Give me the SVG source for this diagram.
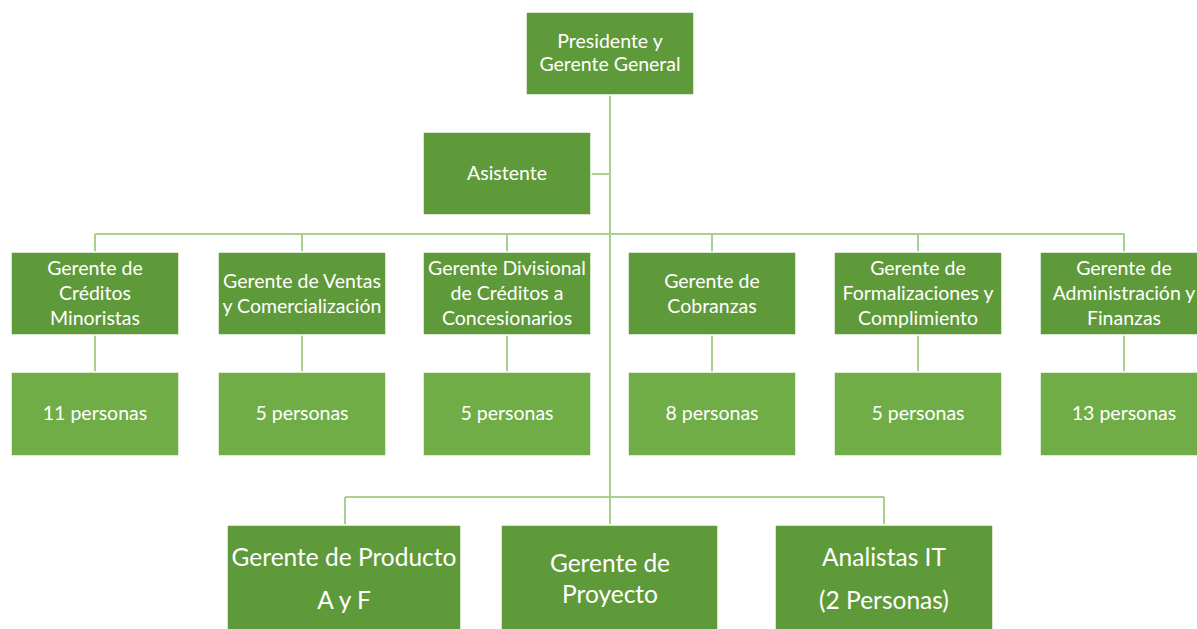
<svg xmlns="http://www.w3.org/2000/svg" width="1197" height="629" viewBox="0 0 1197 629">
<style>
.d{fill:#5f9a3a;stroke:#ffffff;stroke-width:1.5}
.l{fill:#70ad47;stroke:#ffffff;stroke-width:1.5}
.t{font-family:Lato,"Liberation Sans",sans-serif;font-size:19.5px;fill:#ffffff;text-anchor:middle}
.b{font-family:Lato,"Liberation Sans",sans-serif;font-size:24.5px;fill:#ffffff;text-anchor:middle}
.c{fill:none;stroke:#a9d18e;stroke-width:2}
</style>
<rect width="1197" height="629" fill="#ffffff"/>
<g id="connectors">
<path class="c" d="M610 95 V525"/>
<path class="c" d="M591 174 H610"/>
<path class="c" d="M95 234 H1125"/>
<path class="c" d="M95 234 V252 M302 234 V252 M507 234 V252 M712 234 V252 M918 234 V252 M1124 234 V252"/>
<path class="c" d="M95 335 V372 M302 335 V372 M507 335 V372 M712 335 V372 M918 335 V372 M1124 335 V372"/>
<path class="c" d="M345 497 H884 M345 497 V525 M884 497 V525"/>
</g>
<g id="presidente"><rect class="d" x="526" y="12" width="168" height="83"/><text class="t" x="610" y="48">Presidente y</text><text class="t" x="610" y="71">Gerente General</text></g>
<g id="asistente"><rect class="d" x="423" y="132" width="168" height="83"/><text class="t" x="507" y="180">Asistente</text></g>
<g id="creditos"><rect class="d" x="11" y="252" width="168" height="83"/><text class="t" x="95" y="275">Gerente de</text><text class="t" x="95" y="300">Créditos</text><text class="t" x="95" y="325">Minoristas</text></g>
<g id="ventas"><rect class="d" x="218" y="252" width="168" height="83"/><text class="t" x="302" y="288">Gerente de Ventas</text><text class="t" x="302" y="313">y Comercialización</text></g>
<g id="divisional"><rect class="d" x="423" y="252" width="168" height="83"/><text class="t" x="507" y="275">Gerente Divisional</text><text class="t" x="507" y="300">de Créditos a</text><text class="t" x="507" y="325">Concesionarios</text></g>
<g id="cobranzas"><rect class="d" x="628" y="252" width="168" height="83"/><text class="t" x="712" y="288">Gerente de</text><text class="t" x="712" y="313">Cobranzas</text></g>
<g id="formalizaciones"><rect class="d" x="834" y="252" width="168" height="83"/><text class="t" x="918" y="275">Gerente de</text><text class="t" x="918" y="300">Formalizaciones y</text><text class="t" x="918" y="325">Complimiento</text></g>
<g id="administracion"><rect class="d" x="1040" y="252" width="170" height="83"/><text class="t" x="1124" y="275">Gerente de</text><text class="t" x="1124" y="300">Administración y</text><text class="t" x="1124" y="325">Finanzas</text></g>
<g id="p11"><rect class="l" x="11" y="372" width="168" height="84"/><text class="t" x="95" y="420">11 personas</text></g>
<g id="p5a"><rect class="l" x="218" y="372" width="168" height="84"/><text class="t" x="302" y="420">5 personas</text></g>
<g id="p5b"><rect class="l" x="423" y="372" width="168" height="84"/><text class="t" x="507" y="420">5 personas</text></g>
<g id="p8"><rect class="l" x="628" y="372" width="168" height="84"/><text class="t" x="712" y="420">8 personas</text></g>
<g id="p5c"><rect class="l" x="834" y="372" width="168" height="84"/><text class="t" x="918" y="420">5 personas</text></g>
<g id="p13"><rect class="l" x="1040" y="372" width="170" height="84"/><text class="t" x="1124" y="420">13 personas</text></g>
<g id="producto"><rect class="d" x="227" y="525" width="234" height="110"/><text class="b" x="344" y="566">Gerente de Producto</text><text class="b" x="344" y="609">A y F</text></g>
<g id="proyecto"><rect class="d" x="501" y="525" width="217" height="110"/><text class="b" x="610" y="572">Gerente de</text><text class="b" x="610" y="603">Proyecto</text></g>
<g id="analistas"><rect class="d" x="775" y="525" width="218" height="110"/><text class="b" x="884" y="566">Analistas IT</text><text class="b" x="884" y="609">(2 Personas)</text></g>
</svg>
